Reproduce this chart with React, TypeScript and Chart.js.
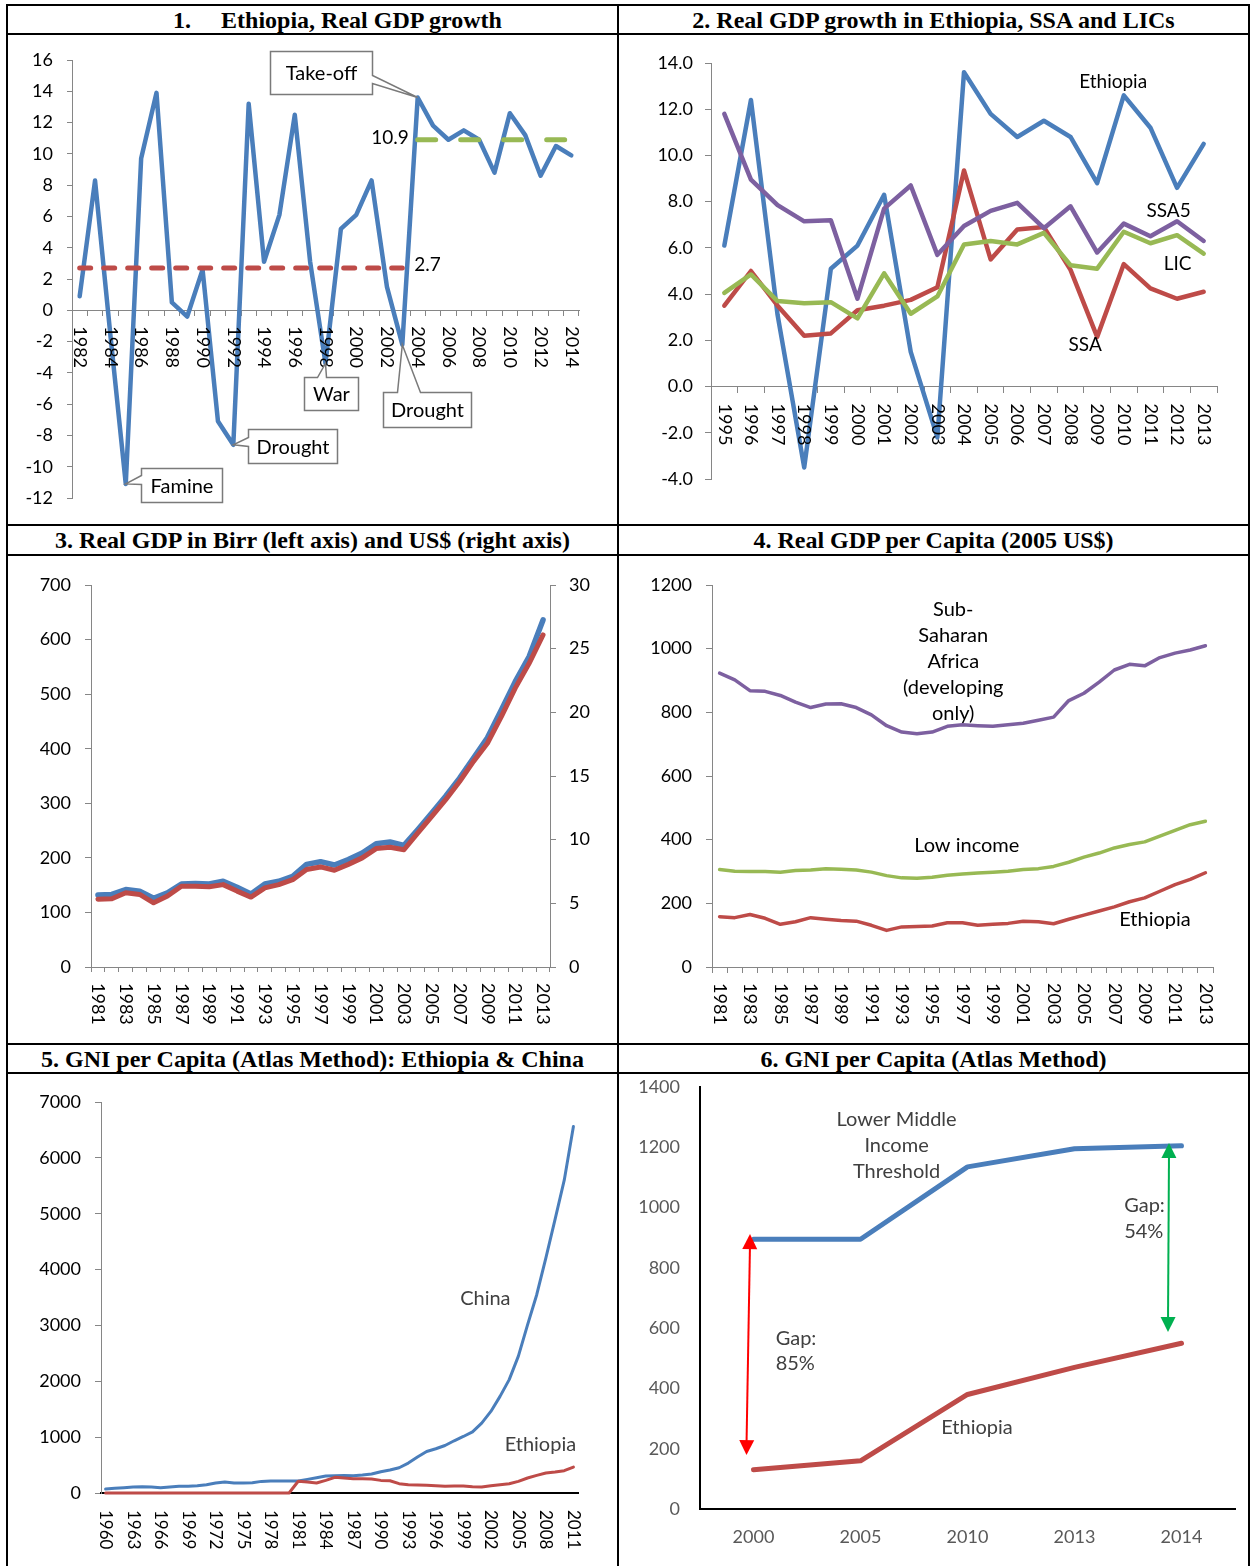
import React, { useEffect, useRef } from 'react';
import { Chart, registerables } from 'chart.js';

Chart.register(...registerables);

const FONT = 'Lato';
Chart.defaults.font.family = FONT;
Chart.defaults.font.size = 18;
Chart.defaults.color = '#000000';

const BLUE = '#4A7EBB';
const RED = '#BE4B48';
const GREEN = '#98B954';
const PURPLE = '#7D60A0';
const AXIS = '#868686';
const NOTE_GRAY = '#404040';
const TICK_GRAY = '#595959';
const NOTE_SIZE = 20;

// ---------------- Panel 1: Ethiopia real GDP growth ----------------
const p1Years = ['1982','1983','1984','1985','1986','1987','1988','1989','1990','1991','1992','1993','1994','1995','1996','1997','1998','1999','2000','2001','2002','2003','2004','2005','2006','2007','2008','2009','2010','2011','2012','2013','2014'];
const p1Growth = [0.9, 8.3, -1.6, -11.1, 9.7, 13.9, 0.5, -0.4, 2.6, -7.1, -8.6, 13.2, 3.1, 6.1, 12.5, 3.1, -3.4, 5.2, 6.1, 8.3, 1.5, -2.2, 13.6, 11.8, 10.9, 11.5, 10.9, 8.8, 12.6, 11.2, 8.6, 10.5, 9.9];
const p1PreAvg = 2.7;
const p1PostAvg = 10.9;
const p1TakeOffYear = '2004';

// ---------------- Panel 2: growth Ethiopia, SSA, SSA5, LIC ----------------
const p2Years = ['1995','1996','1997','1998','1999','2000','2001','2002','2003','2004','2005','2006','2007','2008','2009','2010','2011','2012','2013'];
const p2Ethiopia = [6.1, 12.4, 3.1, -3.5, 5.1, 6.1, 8.3, 1.5, -2.2, 13.6, 11.8, 10.8, 11.5, 10.8, 8.8, 12.6, 11.2, 8.6, 10.5];
const p2SSA = [3.5, 5.0, 3.5, 2.2, 2.3, 3.3, 3.5, 3.75, 4.3, 9.35, 5.5, 6.8, 6.9, 5.05, 2.15, 5.3, 4.25, 3.8, 4.1];
const p2SSA5 = [11.8, 8.95, 7.85, 7.15, 7.2, 3.8, 7.7, 8.7, 5.7, 6.95, 7.6, 7.95, 6.85, 7.8, 5.8, 7.05, 6.5, 7.15, 6.3];
const p2LIC = [4.05, 4.85, 3.7, 3.6, 3.65, 2.95, 4.9, 3.15, 3.9, 6.15, 6.3, 6.15, 6.65, 5.25, 5.1, 6.7, 6.2, 6.55, 5.75];

// ---------------- Panel 3: real GDP Birr (left) and US$ (right) ----------------
const p3Years = ['1981','1982','1983','1984','1985','1986','1987','1988','1989','1990','1991','1992','1993','1994','1995','1996','1997','1998','1999','2000','2001','2002','2003','2004','2005','2006','2007','2008','2009','2010','2011','2012','2013'];
const p3Birr = [132, 133, 142, 139, 126, 136, 152, 153, 152, 157, 146, 134, 152, 157, 166, 188, 193, 187, 197, 209, 226, 229, 223, 252, 282, 313, 346, 383, 420, 471, 523, 569, 636];
const p3Usd = [5.33, 5.36, 5.83, 5.7, 5.04, 5.57, 6.34, 6.34, 6.3, 6.47, 5.96, 5.49, 6.21, 6.47, 6.86, 7.66, 7.86, 7.6, 8.06, 8.57, 9.3, 9.41, 9.21, 10.53, 11.83, 13.14, 14.57, 16.15, 17.57, 19.67, 21.9, 23.85, 26.08];

// ---------------- Panel 4: real GDP per capita ----------------
const p4Years = ['1981','1982','1983','1984','1985','1986','1987','1988','1989','1990','1991','1992','1993','1994','1995','1996','1997','1998','1999','2000','2001','2002','2003','2004','2005','2006','2007','2008','2009','2010','2011','2012','2013'];
const p4SSA = [923, 902, 868, 866, 853, 832, 815, 826, 827, 815, 792, 758, 738, 733, 738, 756, 761, 758, 756, 761, 766, 775, 785, 837, 860, 895, 933, 951, 946, 972, 986, 996, 1009];
const p4LowIncome = [306, 301, 300, 300, 298, 303, 305, 309, 307, 305, 298, 287, 280, 279, 282, 288, 292, 295, 298, 301, 306, 309, 316, 329, 345, 358, 374, 385, 393, 411, 429, 447, 458];
const p4Ethiopia = [158, 155, 165, 153, 134, 142, 155, 150, 146, 144, 131, 115, 126, 127, 129, 139, 139, 131, 134, 137, 144, 142, 136, 150, 163, 176, 189, 205, 217, 238, 259, 275, 296];

// ---------------- Panel 5: GNI per capita Ethiopia & China ----------------
const p5Years = ['1960','1961','1962','1963','1964','1965','1966','1967','1968','1969','1970','1971','1972','1973','1974','1975','1976','1977','1978','1979','1980','1981','1982','1983','1984','1985','1986','1987','1988','1989','1990','1991','1992','1993','1994','1995','1996','1997','1998','1999','2000','2001','2002','2003','2004','2005','2006','2007','2008','2009','2010','2011'];
const p5China = [71, 83, 95, 107, 113, 107, 95, 107, 119, 119, 131, 149, 178, 196, 178, 178, 185, 208, 214, 214, 214, 214, 244, 274, 304, 310, 315, 310, 321, 339, 381, 411, 452, 536, 643, 744, 792, 851, 935, 1012, 1095, 1250, 1460, 1730, 2030, 2450, 3010, 3550, 4210, 4900, 5600, 6560];
const p5Ethiopia = [0, 0, 0, 0, 0, 0, 0, 0, 0, 0, 0, 0, 0, 0, 0, 0, 0, 0, 0, 0, 0, 210, 196, 178, 226, 280, 268, 256, 256, 250, 226, 220, 167, 149, 143, 137, 131, 119, 125, 125, 113, 107, 131, 149, 167, 208, 268, 315, 357, 375, 399, 464];

// ---------------- Panel 6: GNI per capita vs LMI threshold ----------------
const p6Years = ['2000', '2005', '2010', '2013', '2014'];
const p6Threshold = [895, 895, 1135, 1195, 1205];
const p6Ethiopia = [130, 160, 380, 470, 550];

// ---------------- helpers ----------------
const baseOptions = (pad: any) => ({
  responsive: true,
  maintainAspectRatio: false,
  animation: false,
  events: [],
  layout: { padding: pad },
  plugins: { legend: { display: false }, tooltip: { enabled: false } },
  elements: {
    point: { radius: 0, hoverRadius: 0 },
    line: { tension: 0, borderJoinStyle: 'round', borderCapStyle: 'round' },
  },
});

const yAxis = (o: any) => ({
  type: 'linear',
  position: o.pos || 'left',
  min: o.min,
  max: o.max,
  ticks: {
    stepSize: o.step,
    padding: o.padding,
    color: o.color || '#000000',
    font: { family: FONT, size: o.size || 18 },
    callback: (v: any) => (o.fmt ? o.fmt(Number(v)) : String(v)),
  },
  grid: {
    display: true,
    drawOnChartArea: false,
    drawTicks: o.tick > 0,
    tickLength: o.tick,
    color: o.borderColor || AXIS,
    lineWidth: 1,
  },
  border: { display: true, color: o.borderColor || AXIS, width: o.borderWidth || 1 },
  afterFit: (s: any) => {
    s.width = o.width;
    s.paddingTop = 0;
    s.paddingBottom = 0;
  },
});

const xAxis = (o: any) => ({
  type: 'category',
  position: o.pos,
  offset: true,
  grid: {
    display: true,
    offset: true,
    drawOnChartArea: false,
    drawTicks: o.tick > 0,
    tickLength: o.tick,
    color: o.color,
    lineWidth: 1,
  },
  border: { display: true, color: o.color, width: o.width },
  ticks: {
    display: !!o.labels,
    autoSkip: false,
    maxRotation: 0,
    minRotation: 0,
    padding: o.labelPadding || 0,
    color: o.labelColor || '#000000',
    font: { family: FONT, size: 18 },
  },
  afterFit: (s: any) => {
    s.height = o.height;
    s.paddingLeft = 0;
    s.paddingRight = 0;
  },
});

function rotatedLabels(labels: string[], step: number, gap: number, zeroAxis: boolean, size: number) {
  return {
    id: 'rotatedLabels',
    afterDraw(chart: any) {
      const { ctx, scales } = chart;
      const base = (zeroAxis ? scales.y.getPixelForValue(0) : chart.chartArea.bottom) + gap;
      ctx.save();
      ctx.font = `${size}px ${FONT}`;
      ctx.fillStyle = '#000000';
      ctx.textAlign = 'left';
      ctx.textBaseline = 'middle';
      labels.forEach((lab, i) => {
        if (i % step !== 0) return;
        const x = scales.x.getPixelForValue(i);
        ctx.save();
        ctx.translate(x, base);
        ctx.rotate(Math.PI / 2);
        ctx.fillText(lab, 0, 0);
        ctx.restore();
      });
      ctx.restore();
    },
  };
}

function notesPlugin(notes: any[]) {
  return {
    id: 'notes',
    afterDraw(chart: any) {
      const { ctx, scales } = chart;
      notes.forEach((n) => {
        const x = scales.x.getPixelForValue(n.xi) + (n.dx || 0);
        const y = scales[n.axis || 'y'].getPixelForValue(n.yv) + (n.dy || 0);
        ctx.save();
        ctx.font = `${n.size || NOTE_SIZE}px ${FONT}`;
        ctx.fillStyle = n.color || '#000000';
        ctx.textAlign = n.align || 'center';
        ctx.textBaseline = 'middle';
        n.lines.forEach((l: string, k: number) => ctx.fillText(l, x, y + k * (n.lh || 26)));
        ctx.restore();
      });
    },
  };
}

const p1Callouts = [
  { text: 'Take-off', year: '2004', dx: -148, dy: -47, w: 102, h: 43, side: 'right', a1: 24, a2: 32 },
  { text: 'Famine', year: '1985', dx: 15, dy: -16, w: 81, h: 34, side: 'left', a1: 7, a2: 16 },
  { text: 'Drought', year: '1992', dx: 15, dy: -16, w: 89, h: 34, side: 'left', a1: 8, a2: 17 },
  { text: 'War', year: '1998', dx: -22, dy: 14, w: 54, h: 33, side: 'top', a1: 13, a2: 22 },
  { text: 'Drought', year: '2003', dx: -19, dy: 47, w: 88, h: 35, side: 'top', a1: 14, a2: 37 },
];

function calloutsPlugin(items: any[]) {
  return {
    id: 'callouts',
    afterDraw(chart: any) {
      const { ctx, scales } = chart;
      items.forEach((c) => {
        const idx = p1Years.indexOf(c.year);
        const tx = scales.x.getPixelForValue(idx);
        const ty = scales.y.getPixelForValue(p1Growth[idx]);
        const bx = Math.round(tx + c.dx) + 0.5;
        const by = Math.round(ty + c.dy) + 0.5;
        ctx.save();
        ctx.beginPath();
        if (c.side === 'left') {
          ctx.moveTo(bx, by);
          ctx.lineTo(bx + c.w, by);
          ctx.lineTo(bx + c.w, by + c.h);
          ctx.lineTo(bx, by + c.h);
          ctx.lineTo(bx, by + c.a2);
          ctx.lineTo(tx, ty);
          ctx.lineTo(bx, by + c.a1);
        } else if (c.side === 'right') {
          ctx.moveTo(bx, by);
          ctx.lineTo(bx + c.w, by);
          ctx.lineTo(bx + c.w, by + c.a1);
          ctx.lineTo(tx, ty);
          ctx.lineTo(bx + c.w, by + c.a2);
          ctx.lineTo(bx + c.w, by + c.h);
          ctx.lineTo(bx, by + c.h);
        } else {
          ctx.moveTo(bx, by);
          ctx.lineTo(bx + c.a1, by);
          ctx.lineTo(tx, ty);
          ctx.lineTo(bx + c.a2, by);
          ctx.lineTo(bx + c.w, by);
          ctx.lineTo(bx + c.w, by + c.h);
          ctx.lineTo(bx, by + c.h);
        }
        ctx.closePath();
        ctx.fillStyle = '#ffffff';
        ctx.fill();
        ctx.strokeStyle = '#7a7a7a';
        ctx.lineWidth = 1.5;
        ctx.stroke();
        ctx.fillStyle = '#000000';
        ctx.font = `${NOTE_SIZE}px ${FONT}`;
        ctx.textAlign = 'center';
        ctx.textBaseline = 'middle';
        ctx.fillText(c.text, bx + c.w / 2, by + c.h / 2 + 1);
        ctx.restore();
      });
    },
  };
}

const p6Arrows = [
  { color: '#FF0000', xi: 0, dxTop: -3.5, dxBottom: -7, top: 912, bottom: 179 },
  { color: '#00B050', xi: 4, dxTop: -12.5, dxBottom: -13.5, top: 1214, bottom: 587 },
];

function arrowHead(ctx: any, fx: number, fy: number, tx: number, ty: number, len: number, half: number) {
  const ang = Math.atan2(ty - fy, tx - fx);
  const bx = tx - len * Math.cos(ang);
  const by = ty - len * Math.sin(ang);
  ctx.beginPath();
  ctx.moveTo(tx, ty);
  ctx.lineTo(bx + half * Math.sin(ang), by - half * Math.cos(ang));
  ctx.lineTo(bx - half * Math.sin(ang), by + half * Math.cos(ang));
  ctx.closePath();
  ctx.fill();
}

function arrowsPlugin(arrows: any[]) {
  return {
    id: 'arrows',
    afterDraw(chart: any) {
      const { ctx, scales } = chart;
      arrows.forEach((a) => {
        const cx = scales.x.getPixelForValue(a.xi);
        const x1 = cx + a.dxTop;
        const y1 = scales.y.getPixelForValue(a.top);
        const x2 = cx + a.dxBottom;
        const y2 = scales.y.getPixelForValue(a.bottom);
        ctx.save();
        ctx.strokeStyle = a.color;
        ctx.fillStyle = a.color;
        ctx.lineWidth = 2;
        ctx.beginPath();
        ctx.moveTo(x1, y1 + 10);
        ctx.lineTo(x2, y2 - 10);
        ctx.stroke();
        arrowHead(ctx, x2, y2, x1, y1, 15, 7.5);
        arrowHead(ctx, x1, y1, x2, y2, 15, 7.5);
        ctx.restore();
      });
    },
  };
}

// ---------------- chart configs ----------------
const make1 = () => ({
  type: 'line',
  data: {
    labels: p1Years,
    datasets: [
      { data: p1Years.map((y) => (y < p1TakeOffYear ? p1PreAvg : null)), borderColor: RED, borderWidth: 5, borderDash: [11, 13], borderCapStyle: 'round' },
      { data: p1Years.map((y) => (y >= p1TakeOffYear ? p1PostAvg : null)), borderColor: GREEN, borderWidth: 5, borderDash: [18, 25], borderCapStyle: 'round' },
      { data: p1Growth, borderColor: BLUE, borderWidth: 4.5 },
    ],
  },
  options: {
    ...baseOptions({ left: 0, top: 25, right: 38, bottom: 26 }),
    scales: {
      x: xAxis({ pos: { y: 0 }, tick: 5, color: AXIS, width: 1, height: 10 }),
      y: yAxis({ min: -12, max: 16, step: 2, width: 64, tick: 5, padding: 14 }),
    },
  },
  plugins: [
    rotatedLabels(p1Years, 2, 16, true, 18),
    notesPlugin([
      { lines: [String(p1PostAvg)], xi: p1Years.indexOf(p1TakeOffYear), yv: p1PostAvg, dx: -9, dy: -2, align: 'right', size: 19 },
      { lines: [String(p1PreAvg)], xi: p1Years.indexOf(p1TakeOffYear) - 1, yv: p1PreAvg, dx: 12, dy: -3, align: 'left', size: 19 },
    ]),
    calloutsPlugin(p1Callouts),
  ],
});

const make2 = () => ({
  type: 'line',
  data: {
    labels: p2Years,
    datasets: [
      { data: p2LIC, borderColor: GREEN, borderWidth: 4.5 },
      { data: p2SSA5, borderColor: PURPLE, borderWidth: 4.5 },
      { data: p2SSA, borderColor: RED, borderWidth: 4.5 },
      { data: p2Ethiopia, borderColor: BLUE, borderWidth: 4.5 },
    ],
  },
  options: {
    ...baseOptions({ left: 0, top: 28, right: 31, bottom: 45 }),
    scales: {
      x: xAxis({ pos: { y: 0 }, tick: 6, color: AXIS, width: 1, height: 10 }),
      y: yAxis({ min: -4, max: 14, step: 2, width: 91, tick: 6, padding: 12, fmt: (v: number) => v.toFixed(1) }),
    },
  },
  plugins: [
    rotatedLabels(p2Years, 1, 17, true, 18),
    notesPlugin([
      { lines: ['Ethiopia'], xi: 14.6, yv: 13.18, size: 19 },
      { lines: ['SSA5'], xi: 16.68, yv: 7.6, size: 19 },
      { lines: ['LIC'], xi: 17.02, yv: 5.31, size: 19 },
      { lines: ['SSA'], xi: 13.55, yv: 1.82, size: 19 },
    ]),
  ],
});

const make3 = () => ({
  type: 'line',
  data: {
    labels: p3Years,
    datasets: [
      { data: p3Usd, yAxisID: 'y1', borderColor: RED, borderWidth: 5 },
      { data: p3Birr, yAxisID: 'y', borderColor: BLUE, borderWidth: 5.5 },
    ],
  },
  options: {
    ...baseOptions({ left: 0, top: 29, right: 7, bottom: 66 }),
    scales: {
      x: xAxis({ pos: 'bottom', tick: 5, color: AXIS, width: 1, height: 10 }),
      y: yAxis({ min: 0, max: 700, step: 100, width: 83, tick: 6, padding: 14 }),
      y1: yAxis({ pos: 'right', min: 0, max: 30, step: 5, width: 60, tick: 6, padding: 13 }),
    },
  },
  plugins: [rotatedLabels(p3Years, 2, 16, false, 18)],
});

const make4 = () => ({
  type: 'line',
  data: {
    labels: p4Years,
    datasets: [
      { data: p4SSA, borderColor: PURPLE, borderWidth: 3.5 },
      { data: p4LowIncome, borderColor: GREEN, borderWidth: 3.5 },
      { data: p4Ethiopia, borderColor: RED, borderWidth: 3.5 },
    ],
  },
  options: {
    ...baseOptions({ left: 0, top: 29, right: 35, bottom: 66 }),
    scales: {
      x: xAxis({ pos: 'bottom', tick: 6, color: AXIS, width: 1, height: 10 }),
      y: yAxis({ min: 0, max: 1200, step: 200, width: 92, tick: 6, padding: 14 }),
    },
  },
  plugins: [
    rotatedLabels(p4Years, 2, 16, false, 18),
    notesPlugin([
      { lines: ['Sub-', 'Saharan', 'Africa', '(developing', 'only)'], xi: 15.39, yv: 1121.5, lh: 26 },
      { lines: ['Low income'], xi: 16.28, yv: 381.7 },
      { lines: ['Ethiopia'], xi: 28.68, yv: 149 },
    ]),
  ],
});

const make5 = () => ({
  type: 'line',
  data: {
    labels: p5Years,
    datasets: [
      { data: p5Ethiopia, borderColor: RED, borderWidth: 3, clip: false },
      { data: p5China, borderColor: BLUE, borderWidth: 3 },
    ],
  },
  options: {
    ...baseOptions({ left: 0, top: 28, right: 39, bottom: 63 }),
    scales: {
      x: xAxis({ pos: 'bottom', tick: 0, color: '#000000', width: 2, height: 10 }),
      y: yAxis({ min: 0, max: 7000, step: 1000, width: 93, tick: 6, padding: 14 }),
    },
  },
  plugins: [
    rotatedLabels(p5Years, 3, 17, false, 17),
    notesPlugin([
      { lines: ['China'], xi: 41.4, yv: 3473, color: NOTE_GRAY },
      { lines: ['Ethiopia'], xi: 47.4, yv: 859, color: NOTE_GRAY },
    ]),
  ],
});

const make6 = () => ({
  type: 'line',
  data: {
    labels: p6Years,
    datasets: [
      { data: p6Threshold, borderColor: BLUE, borderWidth: 5 },
      { data: p6Ethiopia, borderColor: RED, borderWidth: 5 },
    ],
  },
  options: {
    ...baseOptions({ left: 0, top: 13, right: 13, bottom: 17 }),
    scales: {
      x: xAxis({ pos: 'bottom', tick: 0, color: '#000000', width: 2, height: 40, labels: true, labelPadding: 17, labelColor: TICK_GRAY }),
      y: yAxis({ min: 0, max: 1400, step: 200, width: 80, tick: 0, padding: 20, color: TICK_GRAY, borderColor: '#000000', borderWidth: 2 }),
    },
  },
  plugins: [
    notesPlugin([
      { lines: ['Lower Middle', 'Income', 'Threshold'], xi: 1.337, yv: 1292, lh: 26, color: NOTE_GRAY },
      { lines: ['Gap:', '85%'], xi: 0.207, yv: 565.6, lh: 25, align: 'left', color: NOTE_GRAY },
      { lines: ['Gap:', '54%'], xi: 3.464, yv: 1006.9, lh: 26, align: 'left', color: NOTE_GRAY },
      { lines: ['Ethiopia'], xi: 2.089, yv: 270.4, color: NOTE_GRAY },
    ]),
    arrowsPlugin(p6Arrows),
  ],
});

// ---------------- components ----------------
function ChartPanel({ x, y, w, h, make }: any) {
  const ref = useRef<HTMLCanvasElement>(null);
  useEffect(() => {
    const chart = new Chart(ref.current as HTMLCanvasElement, make());
    return () => chart.destroy();
  }, []);
  return (
    <div style={{ position: 'absolute', left: x, top: y, width: w, height: h }}>
      <canvas ref={ref} />
    </div>
  );
}

const line = (left: number, top: number, width: number, height: number) => (
  <div style={{ position: 'absolute', left, top, width, height, background: '#000' }} />
);

function Title({ x, y, w, h, text }: any) {
  return (
    <div
      style={{
        position: 'absolute', left: x, top: y, width: w, height: h,
        display: 'flex', alignItems: 'center', justifyContent: 'center',
        fontFamily: '"Liberation Serif", serif', fontWeight: 'bold', fontSize: 24,
        whiteSpace: 'pre', color: '#000', lineHeight: 1,
      }}
    >
      {text}
    </div>
  );
}

export default function App() {
  return (
    <div style={{ position: 'absolute', left: 0, top: 0, width: 1251, height: 1566, overflow: 'hidden', background: '#fff' }}>
      {line(6, 4, 1244, 2)}
      {line(6, 33, 1244, 2)}
      {line(6, 524, 1244, 2)}
      {line(6, 554, 1244, 2)}
      {line(6, 1043, 1244, 2)}
      {line(6, 1072, 1244, 2)}
      {line(6, 4, 2, 1562)}
      {line(617, 4, 2, 1562)}
      {line(1248, 4, 2, 1562)}

      <Title x={33} y={6} w={609} h={27} text={'1.     Ethiopia, Real GDP growth'} />
      <Title x={619} y={6} w={629} h={27} text={'2. Real GDP growth in Ethiopia, SSA and LICs'} />
      <Title x={8} y={526} w={609} h={28} text={'3. Real GDP in Birr (left axis) and US$ (right axis)'} />
      <Title x={619} y={526} w={629} h={28} text={'4. Real GDP per Capita (2005 US$)'} />
      <Title x={8} y={1045} w={609} h={27} text={'5. GNI per Capita (Atlas Method): Ethiopia & China'} />
      <Title x={619} y={1045} w={629} h={27} text={'6. GNI per Capita (Atlas Method)'} />

      <ChartPanel x={8} y={35} w={609} h={489} make={make1} />
      <ChartPanel x={620} y={35} w={628} h={489} make={make2} />
      <ChartPanel x={8} y={556} w={609} h={487} make={make3} />
      <ChartPanel x={620} y={556} w={628} h={487} make={make4} />
      <ChartPanel x={8} y={1074} w={609} h={492} make={make5} />
      <ChartPanel x={620} y={1074} w={628} h={492} make={make6} />
    </div>
  );
}
